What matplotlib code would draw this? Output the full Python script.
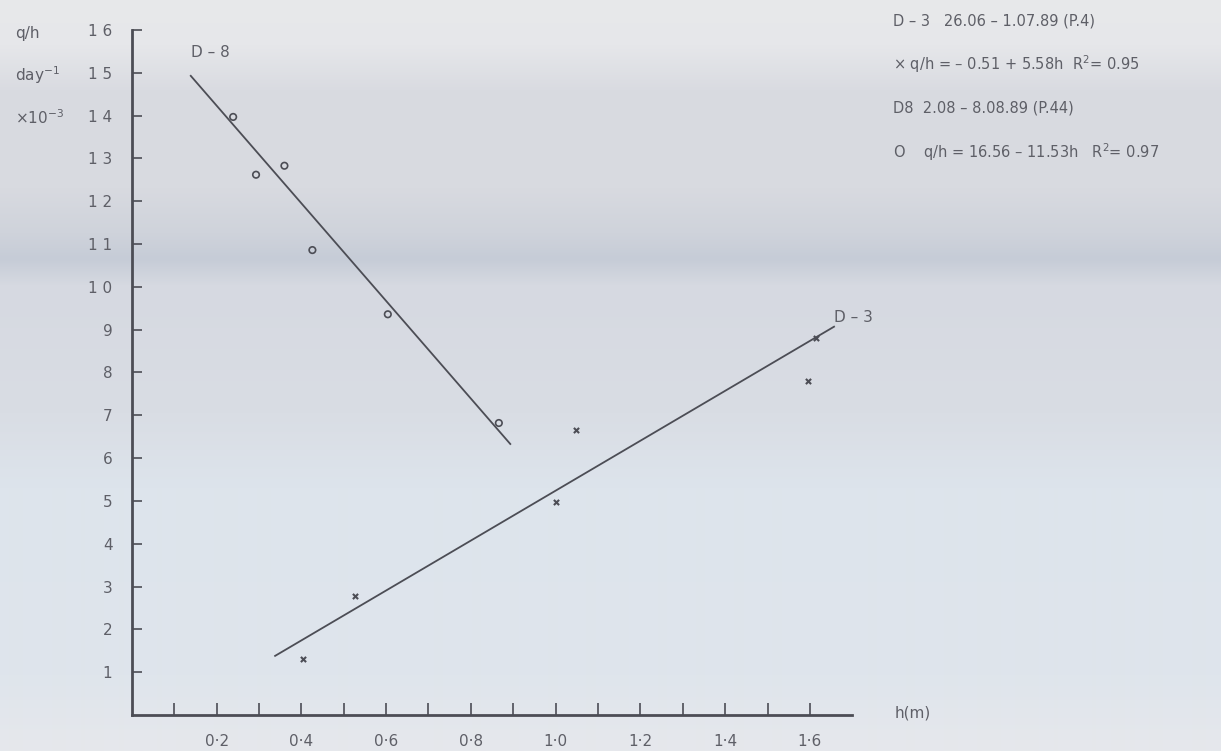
import matplotlib.pyplot as plt
from matplotlib.colors import to_rgb
import numpy as np

# data
h_d8 = [0.239, 0.293, 0.360, 0.426, 0.604, 0.866]
qh_d8 = [13.97, 12.62, 12.83, 10.86, 9.36, 6.82]

h_d3 = [0.404, 0.527, 1.002, 1.048, 1.595, 1.615]
qh_d3 = [1.31, 2.78, 4.97, 6.65, 7.80, 8.81]

# fitted lines (end points as drawn)
line_d8_h = [0.139, 0.893]
line_d8_qh = [14.93, 6.33]
line_d3_h = [0.338, 1.657]
line_d3_qh = [1.38, 9.07]

x_ticks = np.arange(0.1, 1.65, 0.1)
x_labels = ['' if i % 2 == 0 else f"{v:.1f}".replace('.', '·') for i, v in enumerate(x_ticks)]
y_ticks = list(range(1, 17))

legend_lines = [
    "D – 3   26.06 – 1.07.89 (P.4)",
    "× q/h = – 0.51 + 5.58h  R$^2$= 0.95",
    "D8  2.08 – 8.08.89 (P.44)",
    "O    q/h = 16.56 – 11.53h   R$^2$= 0.97",
]

ink = '#5e5f67'
line_ink = '#4c4d55'
bg = '#dde0e6'

# scan tint, colour stops from top (0) to bottom (1) of the page
tint_pos = [0.0, 0.06, 0.12, 0.25, 0.31, 0.345, 0.38, 0.55, 0.65, 0.90, 1.0]
tint_col = ['#e8e9eb', '#e6e7ea', '#d9dbe1', '#d8dae0', '#cfd3db', '#c6ccd7',
            '#d6d9e1', '#d9dde4', '#dde4ec', '#dfe5ec', '#e6e8ec']

fig = plt.figure(figsize=(12.21, 7.51), dpi=100, facecolor=bg)

rows = np.linspace(0, 1, 751)
rgb = np.array([to_rgb(c) for c in tint_col])
tint = np.stack([np.interp(rows, tint_pos, rgb[:, k]) for k in range(3)], axis=-1)
bg_ax = fig.add_axes([0, 0, 1, 1], zorder=-1)
bg_ax.imshow(tint[:, None, :], aspect='auto', extent=[0, 1, 0, 1], interpolation='bilinear')
bg_ax.axis('off')

ax = fig.add_axes([0.108, 0.048, 0.590, 0.912])
ax.set_facecolor('none')

ax.plot(line_d8_h, line_d8_qh, color=line_ink, lw=1.3)
ax.plot(line_d3_h, line_d3_qh, color=line_ink, lw=1.3)
ax.scatter(h_d8, qh_d8, marker='o', s=22, facecolors='none', edgecolors=line_ink, linewidths=1.2)
ax.scatter(h_d3, qh_d3, marker='x', s=14, color=line_ink, linewidths=1.5)

ax.set_xlim(0, 1.70)
ax.set_ylim(0, 16)
ax.spines['top'].set_visible(False)
ax.spines['right'].set_visible(False)
ax.spines['left'].set_color(line_ink)
ax.spines['bottom'].set_color(line_ink)
ax.spines['left'].set_linewidth(2)
ax.spines['bottom'].set_linewidth(2)

ax.set_xticks(x_ticks)
ax.set_xticklabels(x_labels)
ax.set_yticks(y_ticks)
ax.set_yticklabels([' '.join(str(v)) for v in y_ticks])
ax.tick_params(axis='x', direction='in', length=9, width=1.2, color=line_ink, labelcolor=ink,
               labelsize=11, pad=14)
ax.tick_params(axis='y', direction='in', length=7, width=1.2, color=line_ink, labelcolor=ink,
               labelsize=11, pad=14)

ax.text(0.14, 15.3, "D – 8", color=ink, fontsize=11, ha='left', va='bottom')
ax.text(1.658, 9.1, "D – 3", color=ink, fontsize=11, ha='left', va='bottom')

fig.text(0.012, 0.956, "q/h", color=ink, fontsize=11, ha='left', va='center')
fig.text(0.012, 0.900, "day$^{-1}$", color=ink, fontsize=11, ha='left', va='center')
fig.text(0.012, 0.844, "×10$^{-3}$", color=ink, fontsize=11, ha='left', va='center')
fig.text(0.733, 0.051, "h(m)", color=ink, fontsize=11, ha='left', va='center')

for i, line in enumerate(legend_lines):
    fig.text(0.731, 0.972 - i * 0.058, line, color=ink, fontsize=10.5, ha='left', va='center')

fig.savefig('out.png', dpi=100, facecolor=bg)
